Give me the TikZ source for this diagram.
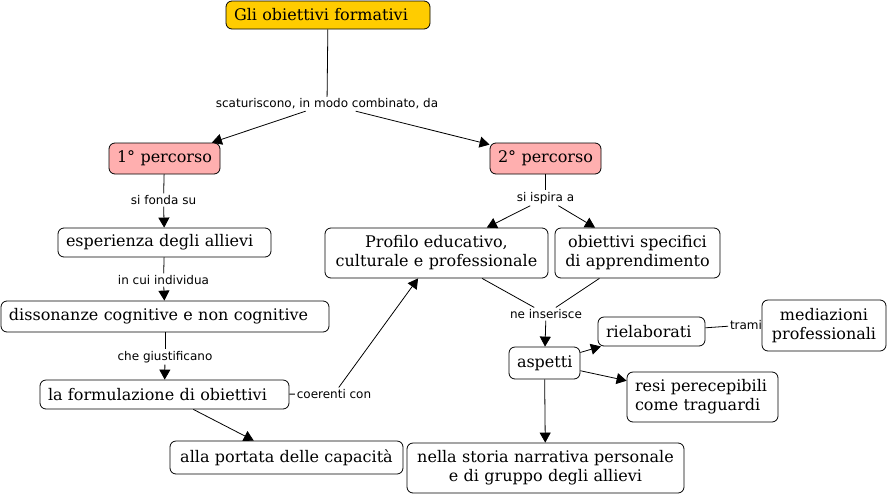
\documentclass[tikz,border=0pt]{standalone}
\usepackage{fontspec}
\setmainfont{DejaVu Serif}
\newfontfamily\linkfont{DejaVu Sans}
\usepackage{tikz}
\usetikzlibrary{arrows.meta, positioning}
\definecolor{goalyellow}{RGB}{255,204,0}
\definecolor{routepink}{RGB}{255,175,175}
\tikzset{
  concept/.style = {draw=black, rounded corners=6pt, align=center,
    inner xsep=8pt, inner ysep=2pt, minimum height=30pt,
    font=\fontsize{16}{19}\selectfont},
  goalbox/.style = {concept, fill=goalyellow},
  routebox/.style = {concept, fill=routepink},
  linkph/.style = {inner sep=1.5pt, font=\linkfont\fontsize{12}{14}\selectfont}
}

\begin{document}
\begin{tikzpicture}[x=1pt, y=-1pt, line width=0.8pt,
  >={Triangle[length=10pt,width=11pt]}]
\useasboundingbox (0,0) rectangle (889,496);
\node [goalbox, align=left, text width=188pt, minimum height=28pt] (goal) at (328,15) {Gli obiettivi formativi};
\node [routebox, text width=95pt, minimum height=31pt] (first) at (164.5,158.5) {1° percorso};
\node [routebox, text width=95pt, minimum height=31pt] (second) at (545.5,158.5) {2° percorso};
\node [concept, align=left, text width=197pt, minimum height=29pt] (esp) at (164.5,242.5) {esperienza degli allievi};
\node [concept, align=left, text width=312pt, minimum height=31pt] (diss) at (165,316.5) {dissonanze cognitive e non cognitive};
\node [concept, align=left, text width=233pt, minimum height=29pt] (form) at (164.5,394.5) {la formulazione di obiettivi};
\node [concept, text width=217pt, minimum height=33pt] (port) at (286.5,457.5) {alla portata delle capacità};
\node [concept, text width=207pt, minimum height=50pt] (prof) at (436.5,253) {Profilo educativo,\\culturale e professionale};
\node [concept, text width=149pt, minimum height=50pt] (osa) at (637.5,253) {obiettivi specifici\\di apprendimento};
\node [concept, text width=55pt, minimum height=32pt] (asp) at (544.5,363) {aspetti};
\node [concept, align=left, text width=91pt, minimum height=29pt] (riel) at (651.5,331.5) {rielaborati};
\node [concept, text width=108pt, minimum height=51pt] (med) at (824,325.5) {mediazioni\\professionali};
\node [concept, align=left, text width=135pt, minimum height=50pt] (resi) at (702.5,397) {resi perecepibili\\come traguardi};
\node [concept, text width=261pt, minimum height=50pt] (storia) at (545.5,468) {nella storia narrativa personale\\e di gruppo degli allievi};

\node [linkph] (scat) at (327,104) {scaturiscono, in modo combinato, da};
\node [linkph] (fonda) at (163.5,200) {si fonda su};
\node [linkph] (indiv) at (163.5,280) {in cui individua};
\node [linkph] (giust) at (165,357) {che giustificano};
\node [linkph] (coer) at (334,394) {coerenti con};
\node [linkph] (ispira) at (545.5,198) {si ispira a};
\node [linkph] (inser) at (546,314) {ne inserisce};
\node [linkph] (trami) at (746,325) {trami};

\draw (goal) -- (scat);
\draw [->] (scat) -- (first);
\draw [->] (scat) -- (second);
\draw (first) -- (fonda);
\draw [->] (fonda) -- (esp);
\draw (esp) -- (indiv);
\draw [->] (indiv) -- (diss);
\draw (diss) -- (giust);
\draw [->] (giust) -- (form);
\draw [->] (form) -- (port);
\draw (form) -- (coer);
\draw [->] (coer) -- (prof);
\draw (second) -- (ispira);
\draw [->] (ispira) -- (prof);
\draw [->] (ispira) -- (osa);
\draw (prof) -- (inser);
\draw (osa) -- (inser);
\draw [->] (inser) -- (asp);
\draw [->] (asp) -- (riel);
\draw [->] (asp) -- (resi);
\draw [->] (asp) -- (storia);
\draw (riel) -- (trami);
\end{tikzpicture}
\end{document}
